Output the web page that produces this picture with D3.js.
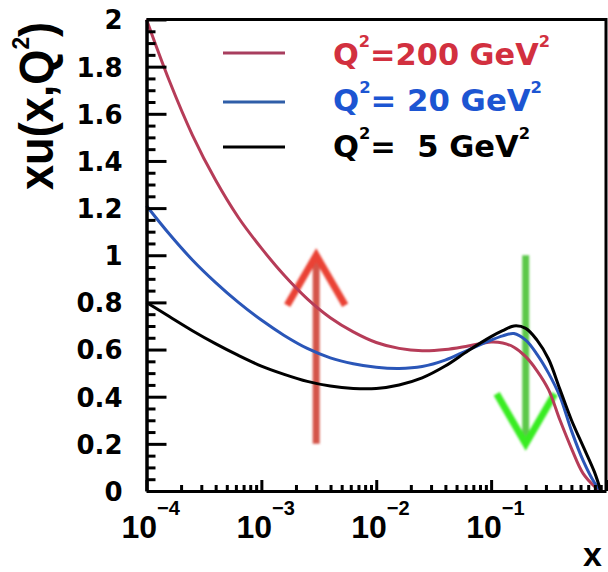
<!DOCTYPE html>
<html>
<head>
<meta charset="utf-8">
<script src="https://cdn.jsdelivr.net/npm/d3@7"></script>
<style>
  html, body { margin: 0; padding: 0; background: #fff; }
  svg { display: block; }
  text { white-space: pre; }
</style>
</head>
<body>
<svg id="chart" width="608" height="572"></svg>
<script>
// Momentum fraction x (shared sampling for all three curves)
const xValues = [1e-4, 1.58e-4, 2.51e-4, 3.98e-4, 6.31e-4, 1e-3, 1.58e-3, 2.51e-3, 3.98e-3, 6.31e-3,
                 0.01, 0.0158, 0.0251, 0.0398, 0.0631, 0.1, 0.126, 0.158, 0.2, 0.251,
                 0.316, 0.398, 0.501, 0.631, 0.794, 0.9];

// xu(x, Q^2) at three scales
const uQ200 = [2.00, 1.74, 1.51, 1.32, 1.16, 1.03, 0.915, 0.815, 0.735, 0.675,
               0.63, 0.605, 0.595, 0.60, 0.615, 0.632, 0.628, 0.61, 0.57, 0.51,
               0.43, 0.30, 0.18, 0.075, 0.02, 0.0];
const uQ20  = [1.21, 1.09, 0.98, 0.885, 0.80, 0.725, 0.66, 0.605, 0.565, 0.54,
               0.525, 0.52, 0.528, 0.555, 0.598, 0.64, 0.658, 0.668, 0.64, 0.58,
               0.50, 0.40, 0.255, 0.13, 0.035, 0.0];
const uQ5   = [0.80, 0.74, 0.68, 0.625, 0.575, 0.53, 0.495, 0.465, 0.445, 0.435,
               0.435, 0.45, 0.48, 0.53, 0.595, 0.655, 0.68, 0.70, 0.69, 0.64,
               0.56, 0.43, 0.30, 0.19, 0.08, 0.0];

const seriesNames = ["Q2=200", "Q2=20", "Q2=5"];
const legendMain = ["Q", "Q", "Q"];
const legendRest = ["=200 GeV", "= 20 GeV", "=  5 GeV"];

// Axis ticks and labels
const yMajorTicks = [0, 0.2, 0.4, 0.6, 0.8, 1, 1.2, 1.4, 1.6, 1.8, 2];
const xMajorTicks = [1e-4, 1e-3, 1e-2, 1e-1];
const xExponents = ["\u22124", "\u22123", "\u22122", "\u22121"];

// Evolution arrows: low-x rise and high-x fall
const arrowX  = [0.003, 0.2];
const arrowY0 = [0.2, 1.0];
const arrowY1 = [1.0, 0.2];

const svg = d3.select("#chart");
const W = 608, H = 572;
svg.append("rect").attr("width", W).attr("height", H).attr("fill", "#fff");

const x = d3.scaleLog().domain([1e-4, 1]).range([146.5, 606]);
const y = d3.scaleLinear().domain([0, 2]).range([491, 19.5]);

const defs = svg.append("defs");
defs.append("filter").attr("id", "soft")
  .attr("x", "-50%").attr("y", "-20%").attr("width", "200%").attr("height", "140%")
  .append("feGaussianBlur").attr("stdDeviation", 1.1);

// Frame (top and right edges)
svg.append("path")
  .attr("d", `M${x.range()[0]},${y(2)} H${x.range()[1]} V${y(0)}`)
  .attr("fill", "none").attr("stroke", "#000").attr("stroke-width", 3);

// Arrows drawn beneath the curves
const arrowStyle = [
  { shaft: "#d4544a", head: "#ea4234" },
  { shaft: "#5cc84a", head: "#38ec22" }
];
arrowX.forEach((ax, i) => {
  const g = svg.append("g").attr("filter", "url(#soft)");
  const px = x(ax), p0 = y(arrowY0[i]), p1 = y(arrowY1[i]);
  const dir = p1 < p0 ? 1 : -1; // 1 = pointing up
  g.append("line").attr("x1", px).attr("x2", px).attr("y1", p0).attr("y2", p1 + dir * 2)
    .attr("stroke", arrowStyle[i].shaft).attr("stroke-width", 7);
  g.append("path")
    .attr("d", `M${px - 29},${p1 + dir * 50} L${px},${p1} L${px + 29},${p1 + dir * 50}`)
    .attr("fill", "none").attr("stroke", arrowStyle[i].head)
    .attr("stroke-width", 7).attr("stroke-linejoin", "miter");
});

// Curves
const curveColors = ["#b63c58", "#2a56b8", "#000000"];
const seriesValues = [uQ200, uQ20, uQ5];
const line = d3.line()
  .x(d => x(d[0])).y(d => y(d[1]))
  .curve(d3.curveCatmullRom.alpha(0.5));
seriesValues.forEach((vals, i) => {
  svg.append("path")
    .datum(xValues.map((xv, j) => [xv, vals[j]]))
    .attr("d", line)
    .attr("fill", "none")
    .attr("stroke", curveColors[i])
    .attr("stroke-width", 3);
});

// X axis: major and minor ticks pointing inward
const xMinor = [];
[1e-4, 1e-3, 1e-2, 1e-1].forEach(dec => {
  [2, 3, 4, 5, 6, 7, 8, 9].forEach(m => xMinor.push(dec * m));
});
const gx = svg.append("g").attr("transform", `translate(0,${y(0)})`);
gx.call(d3.axisBottom(x).tickValues(xMajorTicks.concat([1])).tickSize(-11).tickSizeOuter(0).tickFormat(""));
gx.append("g").call(d3.axisBottom(x).tickValues(xMinor).tickSize(-6).tickSizeOuter(0).tickFormat(""))
  .select(".domain").remove();
gx.selectAll("line").attr("stroke", "#000").attr("stroke-width", 3);
gx.selectAll(".domain").attr("stroke", "#000").attr("stroke-width", 3);

// X tick labels: 10 with superscript exponent
xMajorTicks.forEach((t, i) => {
  const tx = svg.append("text")
    .attr("x", x(t) - 25).attr("y", 538)
    .attr("font-family", "Liberation Sans, Arial, sans-serif")
    .attr("font-weight", "bold").attr("font-size", 32).attr("fill", "#000");
  tx.append("tspan").text("10");
  tx.append("tspan").attr("font-size", 20).attr("dy", -23).text(xExponents[i]);
});

// Y axis: major ticks every 0.2, minor every 0.05
const yMinor = d3.range(0, 41).map(k => k * 0.05).filter(v => Math.abs(Math.round(v * 5) - v * 5) > 1e-6);
const gy = svg.append("g").attr("transform", `translate(${x.range()[0]},0)`);
gy.call(d3.axisLeft(y).tickValues(yMajorTicks).tickSize(-20).tickSizeOuter(0).tickPadding(24)
  .tickFormat(d3.format("~g")));
gy.append("g").call(d3.axisLeft(y).tickValues(yMinor).tickSize(-9).tickSizeOuter(0).tickFormat(""))
  .select(".domain").remove();
gy.selectAll("line").attr("stroke", "#000").attr("stroke-width", 3);
gy.selectAll(".domain").attr("stroke", "#000").attr("stroke-width", 3.5);
gy.selectAll("text")
  .attr("font-family", "DejaVu Sans, sans-serif")
  .attr("font-weight", "bold").attr("font-size", 26).attr("fill", "#000")
  .attr("dy", "0.36em");

// Axis titles
svg.append("text")
  .attr("x", 602).attr("y", 566).attr("text-anchor", "end")
  .attr("font-family", "Liberation Sans, Arial, sans-serif")
  .attr("font-weight", "bold").attr("font-size", 34).text("x");

const yt = svg.append("text")
  .attr("transform", "translate(53,190) rotate(-90)")
  .attr("font-family", "Liberation Sans, Arial, sans-serif")
  .attr("font-weight", "bold").attr("font-size", 48)
  .attr("textLength", 168).attr("lengthAdjust", "spacingAndGlyphs");
yt.append("tspan").text("xu(x,Q");
yt.append("tspan").attr("font-size", 24).attr("dy", -24).text("2");
yt.append("tspan").attr("dy", 24).text(")");

// Legend
const legendLineColors = ["#a83e5e", "#2f5ea8", "#000000"];
const legendTextColors = ["#d2303f", "#1c55d2", "#000000"];
const legendY = [53, 102, 147];
const legendBase = [65, 111, 157];
const legendWidth = [217, 209, 197];
seriesNames.forEach((name, i) => {
  svg.append("line")
    .attr("x1", 223).attr("x2", 285).attr("y1", legendY[i]).attr("y2", legendY[i])
    .attr("stroke", legendLineColors[i]).attr("stroke-width", 3);
  const t = svg.append("text")
    .attr("x", 333).attr("y", legendBase[i])
    .attr("font-family", "DejaVu Sans, sans-serif")
    .attr("font-weight", "bold").attr("font-size", 30)
    .attr("fill", legendTextColors[i])
    .attr("textLength", legendWidth[i]).attr("lengthAdjust", "spacingAndGlyphs");
  t.append("tspan").text(legendMain[i]);
  t.append("tspan").attr("font-size", 16).attr("dy", -18).text("2");
  t.append("tspan").attr("dy", 18).text(legendRest[i]);
  t.append("tspan").attr("font-size", 16).attr("dy", -18).text("2");
});
</script>
</body>
</html>
